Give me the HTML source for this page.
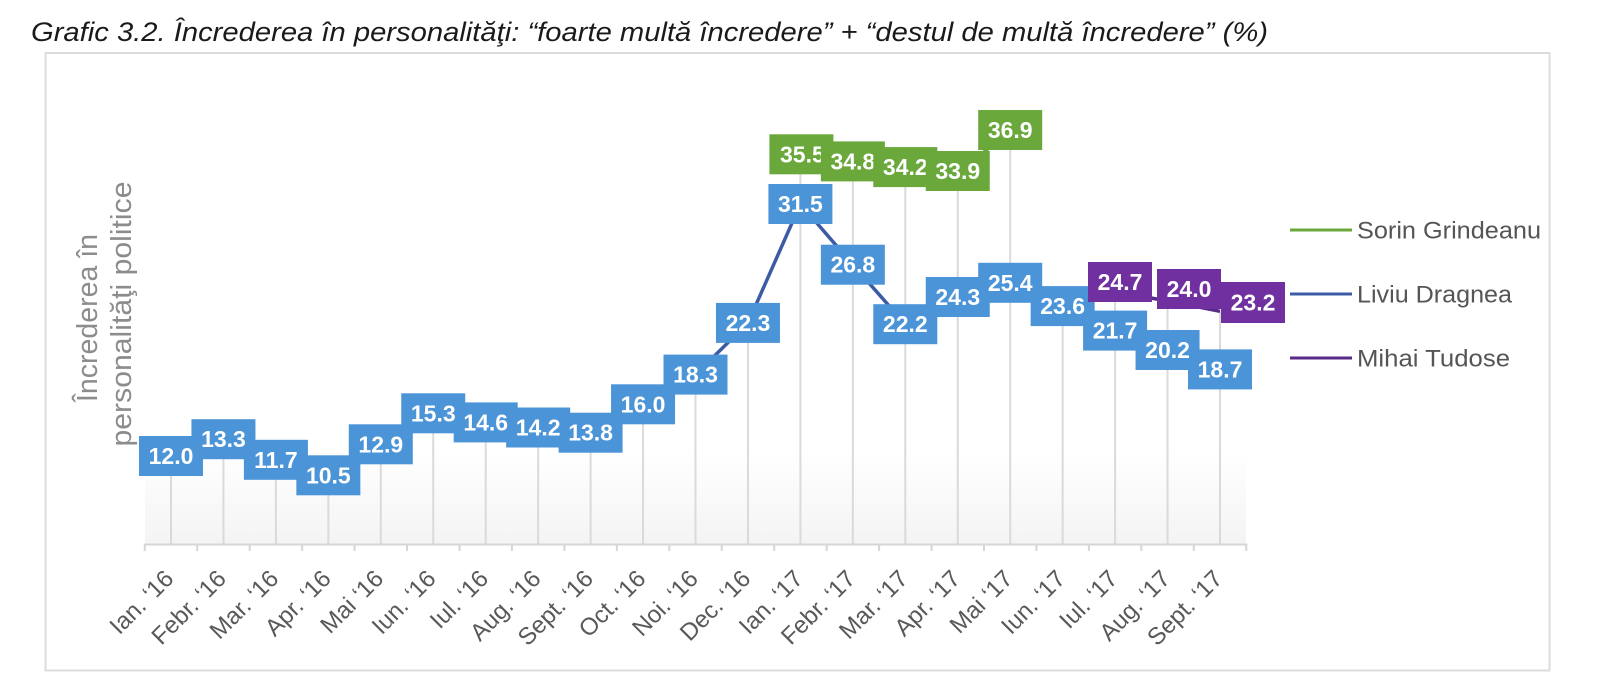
<!DOCTYPE html>
<html><head><meta charset="utf-8"><style>
html,body{margin:0;padding:0;background:#fff;}
svg{display:block;}
</style></head><body>
<svg width="1600" height="700" viewBox="0 0 1600 700" xmlns="http://www.w3.org/2000/svg" font-family="'Liberation Sans', Arial, sans-serif">
<defs>
<linearGradient id="bg" x1="0" y1="0" x2="0" y2="1">
<stop offset="0" stop-color="#ffffff"/><stop offset="1" stop-color="#f4f4f4"/>
</linearGradient>
</defs>
<rect width="1600" height="700" fill="#fff"/>
<text x="31" y="41" font-size="27" font-style="italic" fill="#1a1a1a" textLength="1237" lengthAdjust="spacingAndGlyphs">Grafic 3.2. Încrederea în personalităţi: “foarte multă încredere” + “destul de multă încredere” (%)</text>
<rect x="45.5" y="53" width="1504" height="617.5" fill="none" stroke="#dcdcdc" stroke-width="2"/>
<rect x="145" y="450" width="1101" height="94" fill="url(#bg)"/>

<!-- drop lines -->
<g stroke="#dadada" stroke-width="2">
<line x1="171" y1="456" x2="171" y2="544"/>
<line x1="223.45" y1="439.2" x2="223.45" y2="544"/>
<line x1="275.9" y1="459.8" x2="275.9" y2="544"/>
<line x1="328.35" y1="475.3" x2="328.35" y2="544"/>
<line x1="380.8" y1="444.3" x2="380.8" y2="544"/>
<line x1="433.25" y1="413.3" x2="433.25" y2="544"/>
<line x1="485.7" y1="422.4" x2="485.7" y2="544"/>
<line x1="538.15" y1="427.5" x2="538.15" y2="544"/>
<line x1="590.6" y1="432.7" x2="590.6" y2="544"/>
<line x1="643.05" y1="404.3" x2="643.05" y2="544"/>
<line x1="695.5" y1="374.6" x2="695.5" y2="544"/>
<line x1="747.95" y1="322.9" x2="747.95" y2="544"/>
<line x1="800.4" y1="152.3" x2="800.4" y2="544"/>
<line x1="852.85" y1="161.4" x2="852.85" y2="544"/>
<line x1="905.3" y1="169.1" x2="905.3" y2="544"/>
<line x1="957.75" y1="173" x2="957.75" y2="544"/>
<line x1="1010.2" y1="131" x2="1010.2" y2="544"/>
<line x1="1062.65" y1="306.1" x2="1062.65" y2="544"/>
<line x1="1115.1" y1="291.9" x2="1115.1" y2="544"/>
<line x1="1167.55" y1="300.9" x2="1167.55" y2="544"/>
<line x1="1220" y1="311.3" x2="1220" y2="544"/>
</g>

<!-- axis and ticks -->
<g stroke="#d6d6d6" stroke-width="2">
<line x1="144" y1="544.5" x2="1247" y2="544.5"/>
<line x1="144.8" y1="544" x2="144.8" y2="551"/>
<line x1="197.25" y1="544" x2="197.25" y2="551"/>
<line x1="249.7" y1="544" x2="249.7" y2="551"/>
<line x1="302.15" y1="544" x2="302.15" y2="551"/>
<line x1="354.6" y1="544" x2="354.6" y2="551"/>
<line x1="407.05" y1="544" x2="407.05" y2="551"/>
<line x1="459.5" y1="544" x2="459.5" y2="551"/>
<line x1="511.95" y1="544" x2="511.95" y2="551"/>
<line x1="564.4" y1="544" x2="564.4" y2="551"/>
<line x1="616.85" y1="544" x2="616.85" y2="551"/>
<line x1="669.3" y1="544" x2="669.3" y2="551"/>
<line x1="721.75" y1="544" x2="721.75" y2="551"/>
<line x1="774.2" y1="544" x2="774.2" y2="551"/>
<line x1="826.65" y1="544" x2="826.65" y2="551"/>
<line x1="879.1" y1="544" x2="879.1" y2="551"/>
<line x1="931.55" y1="544" x2="931.55" y2="551"/>
<line x1="984" y1="544" x2="984" y2="551"/>
<line x1="1036.45" y1="544" x2="1036.45" y2="551"/>
<line x1="1088.9" y1="544" x2="1088.9" y2="551"/>
<line x1="1141.35" y1="544" x2="1141.35" y2="551"/>
<line x1="1193.8" y1="544" x2="1193.8" y2="551"/>
<line x1="1246.25" y1="544" x2="1246.25" y2="551"/>
</g>

<!-- x labels -->
<g font-size="24" fill="#595959" text-anchor="end">
<text transform="translate(175,580) rotate(-45)">Ian. ‘16</text>
<text transform="translate(227.45,580) rotate(-45)">Febr. ‘16</text>
<text transform="translate(279.9,580) rotate(-45)">Mar. ‘16</text>
<text transform="translate(332.35,580) rotate(-45)">Apr. ‘16</text>
<text transform="translate(384.8,580) rotate(-45)">Mai ‘16</text>
<text transform="translate(437.25,580) rotate(-45)">Iun. ‘16</text>
<text transform="translate(489.7,580) rotate(-45)">Iul. ‘16</text>
<text transform="translate(542.15,580) rotate(-45)">Aug. ‘16</text>
<text transform="translate(594.6,580) rotate(-45)">Sept. ‘16</text>
<text transform="translate(647.05,580) rotate(-45)">Oct. ‘16</text>
<text transform="translate(699.5,580) rotate(-45)">Noi. ‘16</text>
<text transform="translate(751.95,580) rotate(-45)">Dec. ‘16</text>
<text transform="translate(804.4,580) rotate(-45)">Ian. ‘17</text>
<text transform="translate(856.85,580) rotate(-45)">Febr. ‘17</text>
<text transform="translate(909.3,580) rotate(-45)">Mar. ‘17</text>
<text transform="translate(961.75,580) rotate(-45)">Apr. ‘17</text>
<text transform="translate(1014.2,580) rotate(-45)">Mai ‘17</text>
<text transform="translate(1066.65,580) rotate(-45)">Iun. ‘17</text>
<text transform="translate(1119.1,580) rotate(-45)">Iul. ‘17</text>
<text transform="translate(1171.55,580) rotate(-45)">Aug. ‘17</text>
<text transform="translate(1224,580) rotate(-45)">Sept. ‘17</text>
</g>

<!-- y axis title -->
<g font-size="29" fill="#8c8c8c" text-anchor="middle">
<text transform="translate(97,318) rotate(-90)" textLength="168" lengthAdjust="spacingAndGlyphs">Încrederea în</text>
<text transform="translate(131,314) rotate(-90)" textLength="265" lengthAdjust="spacingAndGlyphs">personalităţi politice</text>
</g>

<!-- Dragnea line -->
<polyline fill="none" stroke="#3c5ba5" stroke-width="3.5" stroke-linejoin="round" points="171,456 223.45,439.2 275.9,459.8 328.35,475.3 380.8,444.3 433.25,413.3 485.7,422.4 538.15,427.5 590.6,432.7 643.05,404.3 695.5,374.6 747.95,322.9 800.4,204 852.85,264.7 905.3,324.2 957.75,297 1010.2,282.8 1062.65,306.1 1115.1,330.6 1167.55,350 1220,369.4"/>

<!-- Dragnea boxes -->
<g fill="#4b94d8">
<rect x="139" y="436" width="64" height="40"/>
<rect x="191.45" y="419.2" width="64" height="40"/>
<rect x="243.9" y="439.8" width="64" height="40"/>
<rect x="296.35" y="455.3" width="64" height="40"/>
<rect x="348.8" y="424.3" width="64" height="40"/>
<rect x="401.25" y="393.3" width="64" height="40"/>
<rect x="453.7" y="402.4" width="64" height="40"/>
<rect x="506.15" y="407.5" width="64" height="40"/>
<rect x="558.6" y="412.7" width="64" height="40"/>
<rect x="611.05" y="384.3" width="64" height="40"/>
<rect x="663.5" y="354.6" width="64" height="40"/>
<rect x="715.95" y="302.9" width="64" height="40"/>
<rect x="768.4" y="184" width="64" height="40"/>
<rect x="820.85" y="244.7" width="64" height="40"/>
<rect x="873.3" y="304.2" width="64" height="40"/>
<rect x="925.75" y="277" width="64" height="40"/>
<rect x="978.2" y="262.8" width="64" height="40"/>
<rect x="1030.65" y="286.1" width="64" height="40"/>
<rect x="1083.1" y="310.6" width="64" height="40"/>
<rect x="1135.55" y="330" width="64" height="40"/>
<rect x="1188" y="349.4" width="64" height="40"/>
</g>
<g font-size="23" font-weight="bold" fill="#ffffff" text-anchor="middle">
<text x="171" y="464">12.0</text>
<text x="223.45" y="447.2">13.3</text>
<text x="275.9" y="467.8">11.7</text>
<text x="328.35" y="483.3">10.5</text>
<text x="380.8" y="452.3">12.9</text>
<text x="433.25" y="421.3">15.3</text>
<text x="485.7" y="430.4">14.6</text>
<text x="538.15" y="435.5">14.2</text>
<text x="590.6" y="440.7">13.8</text>
<text x="643.05" y="412.3">16.0</text>
<text x="695.5" y="382.6">18.3</text>
<text x="747.95" y="330.9">22.3</text>
<text x="800.4" y="212">31.5</text>
<text x="852.85" y="272.7">26.8</text>
<text x="905.3" y="332.2">22.2</text>
<text x="957.75" y="305">24.3</text>
<text x="1010.2" y="290.8">25.4</text>
<text x="1062.65" y="314.1">23.6</text>
<text x="1115.1" y="338.6">21.7</text>
<text x="1167.55" y="358">20.2</text>
<text x="1220" y="377.4">18.7</text>
</g>

<!-- Grindeanu -->
<polyline fill="none" stroke="#6aa83c" stroke-width="3.5" points="800.4,152.3 852.85,161.4 905.3,169.1 957.75,173 1010.2,131"/>
<g fill="#6aa83c">
<rect x="769.4" y="134.3" width="64" height="40"/>
<text x="802.4" y="162.3" font-size="23" font-weight="bold" fill="#ffffff" text-anchor="middle">35.5</text>
<rect x="820.85" y="141.4" width="64" height="40"/>
<text x="852.85" y="169.4" font-size="23" font-weight="bold" fill="#ffffff" text-anchor="middle">34.8</text>
<rect x="873.3" y="147.1" width="64" height="40"/>
<text x="905.3" y="175.1" font-size="23" font-weight="bold" fill="#ffffff" text-anchor="middle">34.2</text>
<rect x="925.75" y="151" width="64" height="40"/>
<text x="957.75" y="179" font-size="23" font-weight="bold" fill="#ffffff" text-anchor="middle">33.9</text>
<rect x="978.2" y="110" width="64" height="40"/>
<text x="1010.2" y="138" font-size="23" font-weight="bold" fill="#ffffff" text-anchor="middle">36.9</text>
</g>

<!-- Tudose -->
<polyline fill="none" stroke="#5a2a88" stroke-width="3.5" points="1115.1,291.9 1167.55,300.9 1220,311.3"/>
<g fill="#7030a0">
<rect x="1088" y="262" width="64" height="40"/>
<text x="1120" y="290" font-size="23" font-weight="bold" fill="#ffffff" text-anchor="middle">24.7</text>
<rect x="1157" y="269" width="64" height="40"/>
<text x="1189" y="297" font-size="23" font-weight="bold" fill="#ffffff" text-anchor="middle">24.0</text>
<rect x="1221" y="282" width="64" height="41"/>
<text x="1253" y="310.5" font-size="23" font-weight="bold" fill="#ffffff" text-anchor="middle">23.2</text>
</g>

<!-- legend -->
<line x1="1290" y1="230" x2="1352" y2="230" stroke="#6aa83c" stroke-width="3"/>
<line x1="1290" y1="294" x2="1352" y2="294" stroke="#3c5ba5" stroke-width="3"/>
<line x1="1290" y1="358" x2="1352" y2="358" stroke="#5a2a88" stroke-width="3"/>
<g font-size="24" fill="#555555">
<text x="1357" y="238.5" textLength="184" lengthAdjust="spacingAndGlyphs">Sorin Grindeanu</text>
<text x="1357" y="302.5" textLength="155" lengthAdjust="spacingAndGlyphs">Liviu Dragnea</text>
<text x="1357" y="366.5" textLength="153" lengthAdjust="spacingAndGlyphs">Mihai Tudose</text>
</g>
</svg>
</body></html>
